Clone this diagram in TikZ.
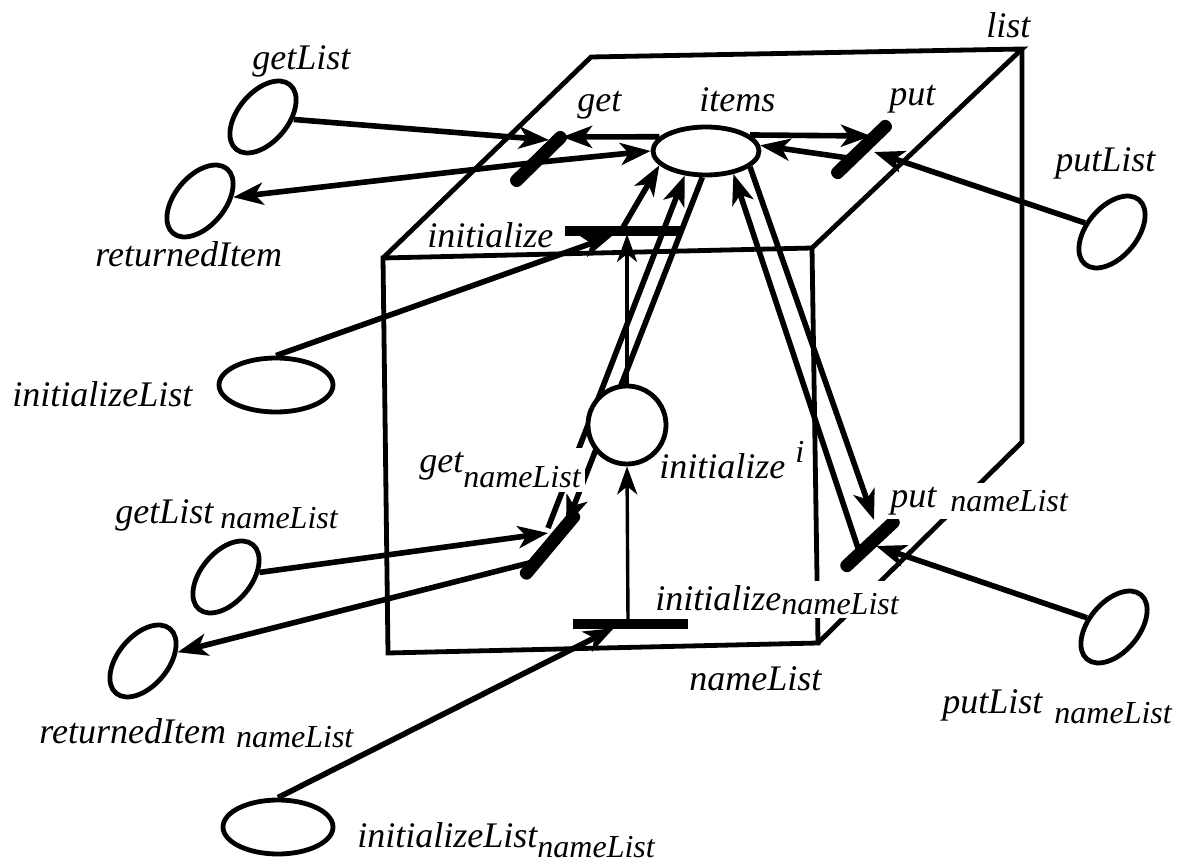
\documentclass[tikz,border=0pt]{standalone}
\usepackage{fontspec}
\setmainfont{Liberation Serif}
\usetikzlibrary{arrows.meta,shapes.geometric}
% lowered index and raised exponent for the labels
\newcommand{\lsub}[2][4pt]{\raisebox{-#1}{\fontsize{16}{16}\selectfont #2}}
\newcommand{\rsup}[2][8pt]{\raisebox{#1}{\fontsize{16}{16}\selectfont #2}}

\begin{document}
\begin{tikzpicture}[x=0.5pt,y=-0.5pt,
  edge/.style={line width=2.4pt, line join=miter},
  arc/.style={line width=2.8pt, -{Stealth[length=15pt,width=11pt,inset=4pt]}},
  thinarc/.style={line width=1.7pt, -{Stealth[length=14pt,width=10pt,inset=4pt]}},
  place/.style={draw, line width=2.4pt, ellipse, inner sep=0pt, fill=white},
  slantbar/.style={fill=black, inner sep=0pt, rounded corners=3pt, minimum height=6.5pt},
  flatbar/.style={fill=black, inner sep=0pt, minimum height=4.8pt},
  lab/.style={font=\fontsize{18}{20}\selectfont\itshape, inner sep=1pt, anchor=base west},
  labw/.style={lab, fill=white, inner sep=2pt}
]
\useasboundingbox (0,0) rectangle (1192,865);

% ---- the box "list" ----
\coordinate (ftl) at (383,258);
\coordinate (ftr) at (812,248);
\coordinate (fbl) at (388,653);
\coordinate (fbr) at (818,643);
\coordinate (btl) at (591,57);
\coordinate (btr) at (1022,49);
\coordinate (bbr) at (1022,442);
\draw[edge] (fbr) -- (fbl) -- (ftl) -- (ftr) -- cycle;
\draw[edge] (ftl) -- (btl) -- (btr) -- (ftr);
\draw[edge] (btr) -- (bbr) -- (fbr);

% ---- places ----
\node[place, minimum width=53pt, minimum height=24pt] (items) at (706,151) {};
\node[place, minimum width=42pt, minimum height=25pt, rotate=50] (getList) at (263,117) {};
\node[place, minimum width=42pt, minimum height=25pt, rotate=50] (returnedItem) at (200,201) {};
\node[place, minimum width=57pt, minimum height=27pt] (initializeList) at (276,385) {};
\node[place, minimum width=42pt, minimum height=25pt, rotate=50] (putList) at (1112,232) {};
\node[place, minimum width=42pt, minimum height=25pt, rotate=50] (getListN) at (226,577) {};
\node[place, minimum width=42pt, minimum height=25pt, rotate=50] (returnedItemN) at (143,661) {};
\node[place, minimum width=55pt, minimum height=27pt] (initializeListN) at (278,827) {};
\node[place, minimum width=42pt, minimum height=25pt, rotate=50] (putListN) at (1114,627) {};

% ---- transitions ----
\node[slantbar, minimum width=37pt, rotate=44.5] (get) at (538.5,159) {};
\node[slantbar, minimum width=39.5pt, rotate=44] (put) at (861.5,149.5) {};
\node[slantbar, minimum width=43pt, rotate=50] (getN) at (550,545) {};
\node[slantbar, minimum width=38pt, rotate=43] (putN) at (870,544) {};
\node[flatbar, minimum width=57.5pt] (init) at (622.5,231) {};
\node[flatbar, minimum width=57.5pt] (initN) at (630.5,624) {};

% ---- arc ends at the transitions ----
\coordinate (get-in) at (549,140);
\coordinate (get-back) at (562,137);
\coordinate (get-out) at (531,163);
\coordinate (put-in) at (871,136);
\coordinate (put-out) at (848,158);
\coordinate (put-side) at (874,152);
\coordinate (init-in) at (612,236);
\coordinate (init-out) at (622,229);
\coordinate (init-low) at (627,234);
\coordinate (getN-out) at (548,528);
\coordinate (getN-in) at (566,526);
\coordinate (getN-side) at (548,533);
\coordinate (getN-ret) at (533,562);
\coordinate (initN-in) at (614,628);
\coordinate (initN-top) at (628,621);
\coordinate (putN-in) at (874,520);
\coordinate (putN-out) at (858,548);
\coordinate (putN-side) at (876,546);

% ---- arcs ----
\draw[arc] (getList) -- (get-in);
\draw[arc] (items.163) -- (get-back);
\draw[arc] (get-out) -- (items.180);
\draw[arc] (get-out) -- (returnedItem);
\draw[arc] (items.20) -- (put-in);
\draw[arc] (put-out) -- (items.6);
\draw[arc] (putList) -- (put-side);
\draw[arc] (initializeList.north) -- (init-in);
\draw[arc] (init-out) -- (items.197);
\draw[arc] (getN-out) -- (items.229);
\draw[arc] (items.262) -- (getN-in);
\draw[arc] (getListN) -- (getN-side);
\draw[arc] (getN-ret) -- (returnedItemN);
\draw[arc] (initializeListN.north) -- (initN-in);
\draw[arc] (items.340) -- (putN-in);
\draw[arc] (putN-out) -- (items.320);
\draw[arc] (putListN) -- (putN-side);

% the local place sits in front of the arcs passing behind it
\node[place, circle, minimum size=39pt] (initI) at (627,425) {};
\draw[thinarc] (initI.north) -- (init-low);
\draw[thinarc] (initN-top) -- (initI.south);

% ---- labels ----
\node[lab] (t-list) at (984,38) {list};
\node[lab] (t-getList) at (250,70) {getList};
\node[lab] (t-returnedItem) at (93,267) {returnedItem};
\node[lab] (t-initializeList) at (10,407) {initializeList};
\node[lab] (t-initialize) at (425,248) {initialize};
\node[lab] (t-get) at (575,112) {get};
\node[lab] (t-items) at (697,112) {items};
\node[lab] (t-put) at (887,106) {put};
\node[lab] (t-putList) at (1053,172) {putList};
\node[labw] (t-getN) at (415,472) {get\lsub[8pt]{nameList}};
\node[lab] (t-initI) at (657,478) {initialize\hspace{5pt}\rsup{i}};
\node[lab] (t-getListN) at (113,523) {getList\hspace{3.5pt}\lsub[2.5pt]{nameList}};
\node[lab] (t-returnedItemN) at (37,743) {returnedItem\hspace{5pt}\lsub[2pt]{nameList}};
\node[lab] (t-initializeListN) at (355,847) {initializeList\lsub[5pt]{nameList}};
\node[labw] (t-initN) at (651,610) {initialize\lsub[2pt]{nameList}};
\node[labw] (t-putN) at (886,507) {put\hspace{7pt}\lsub[2pt]{nameList}};
\node[lab] (t-putListN) at (940,713) {putList\hspace{6pt}\lsub[5pt]{nameList}};
\node[lab] (t-nameList) at (687,690) {nameList};
\end{tikzpicture}
\end{document}
